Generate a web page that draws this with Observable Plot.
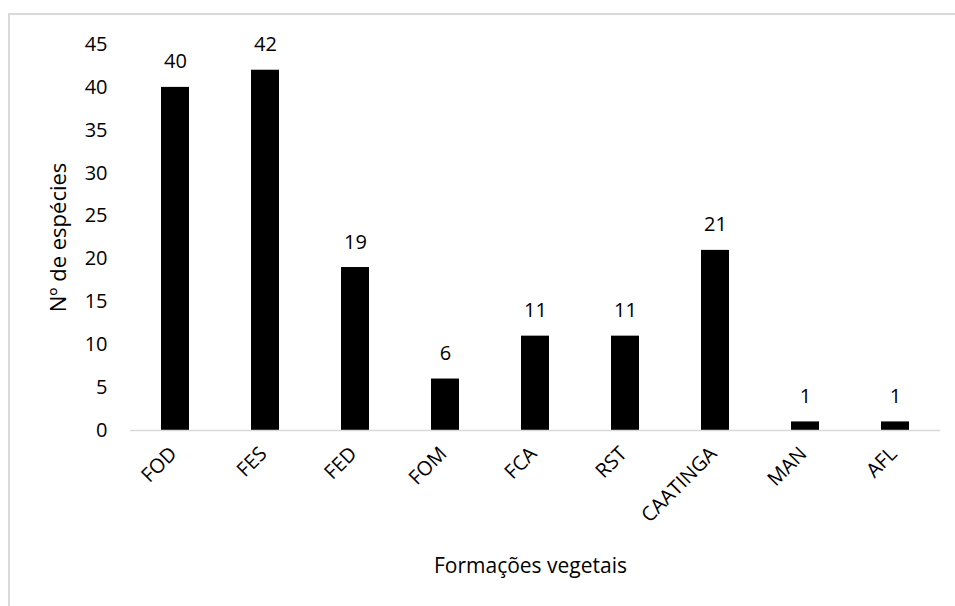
<!DOCTYPE html>
<html>
<head>
<meta charset="utf-8">
<script src="https://cdn.jsdelivr.net/npm/d3@7"></script>
<script src="https://cdn.jsdelivr.net/npm/@observablehq/plot@0.6"></script>
<style>
  html, body { margin: 0; padding: 0; background: #fff; }
  #wrap { position: relative; width: 955px; height: 606px; overflow: hidden; }
  #border { position: absolute; left: 8px; top: 13px; width: 960px; height: 620px; border-left: 2px solid #d9d9d9; border-top: 2px solid #d9d9d9; box-sizing: border-box; }
  #chart { position: absolute; left: 0; top: 0; }
</style>
</head>
<body>
<div id="wrap"><div id="border"></div><div id="chart"></div></div>
<script>
const categories = ["FOD", "FES", "FED", "FOM", "FCA", "RST", "CAATINGA", "MAN", "AFL"];
const values = [40, 42, 19, 6, 11, 11, 21, 1, 1];
const yTicks = [0, 5, 10, 15, 20, 25, 30, 35, 40, 45];
const xTitle = "Formações vegetais";
const yTitle = "Nº de espécies";

const data = categories.map((c, i) => ({category: c, value: values[i]}));
const font = "'Open Sans', sans-serif";

const chart = Plot.plot({
  width: 955,
  height: 606,
  marginLeft: 130,
  marginRight: 15,
  marginTop: 44,
  marginBottom: 176,
  style: {fontFamily: font, fontSize: "20px", color: "#000", background: "transparent"},
  x: {domain: categories, paddingInner: 0.69, paddingOuter: 0.345},
  y: {domain: [0, 45]},
  marks: [
    Plot.barY(data, {x: "category", y: "value", fill: "#000"}),
    Plot.ruleY([0], {stroke: "#d9d9d9", strokeWidth: 1.5}),
    Plot.text(data, {x: "category", y: "value", text: d => String(d.value), lineAnchor: "bottom", dy: -19, fill: "#000", fontSize: 20}),
    Plot.axisY({ticks: yTicks, tickSize: 0, tickPadding: 23, label: null, fontSize: 20}),
    Plot.axisX({tickSize: 0, tickPadding: 20, tickRotate: -45, dx: -2, label: null, fontSize: 20}),
    Plot.text([xTitle], {frameAnchor: "bottom", textAnchor: "middle", dy: 136, dx: -5, lineAnchor: "middle", fill: "#000", fontSize: 21}),
    Plot.text([yTitle], {frameAnchor: "left", textAnchor: "middle", dx: -72, rotate: -90, lineAnchor: "middle", fill: "#000", fontSize: 22})
  ]
});
document.getElementById("chart").appendChild(chart);
</script>
</body>
</html>
